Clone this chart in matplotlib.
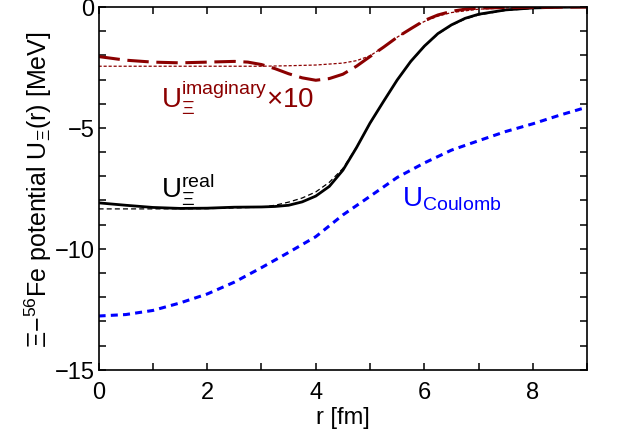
import matplotlib
matplotlib.use("Agg")
import matplotlib.pyplot as plt
from matplotlib.ticker import MultipleLocator

plt.rcParams['font.family'] = ['Liberation Sans', 'DejaVu Sans']
plt.rcParams['mathtext.fontset'] = 'custom'
plt.rcParams['mathtext.rm'] = 'Liberation Sans'
plt.rcParams['mathtext.it'] = 'Liberation Sans'
plt.rcParams['mathtext.bf'] = 'Liberation Sans'

# --- data ---
r_real = [0, 0.5, 1.0, 1.5, 2.0, 2.5, 3.0, 3.25, 3.5, 3.75, 4.0, 4.25, 4.5, 4.75, 5.0,
          5.25, 5.5, 5.75, 6.0, 6.25, 6.5, 6.75, 7.0, 7.5, 8.0, 8.5, 9.0]
u_real = [-8.1, -8.2, -8.29, -8.33, -8.32, -8.28, -8.27, -8.25, -8.2, -8.06, -7.82, -7.42,
          -6.75, -5.82, -4.8, -3.9, -3.02, -2.25, -1.62, -1.1, -0.74, -0.47, -0.3, -0.12,
          -0.04, -0.01, 0.0]

r_real_fit = [0, 1.0, 2.0, 3.0, 3.25, 3.5, 3.75, 4.0, 4.25, 4.5, 4.75, 5.0, 5.25, 5.5,
              5.75, 6.0, 6.25, 6.5, 6.75, 7.0, 7.5, 8.0, 8.5, 9.0]
u_real_fit = [-8.35, -8.35, -8.34, -8.28, -8.2, -8.07, -7.9, -7.65, -7.25, -6.68, -5.8,
              -4.82, -3.9, -3.02, -2.27, -1.64, -1.12, -0.76, -0.5, -0.33, -0.14, -0.06,
              -0.02, -0.01]

r_imag = [0, 0.5, 1.0, 1.5, 2.0, 2.5, 2.75, 3.0, 3.25, 3.5, 3.75, 4.0, 4.25, 4.5, 4.75,
          5.0, 5.25, 5.5, 5.75, 6.0, 6.25, 6.5, 6.75, 7.0, 7.5, 8.0, 9.0]
u_imag = [-2.05, -2.2, -2.28, -2.31, -2.28, -2.25, -2.28, -2.38, -2.55, -2.76, -2.93,
          -3.03, -2.96, -2.78, -2.45, -2.05, -1.66, -1.25, -0.9, -0.56, -0.33, -0.18,
          -0.09, -0.05, -0.02, -0.01, 0.0]

r_imag_fit = [0, 1.0, 2.0, 3.0, 3.5, 4.0, 4.25, 4.5, 4.75, 5.0, 5.25, 5.5, 5.75, 6.0,
              6.25, 6.5, 7.0, 7.5, 8.0, 9.0]
u_imag_fit = [-2.45, -2.45, -2.45, -2.45, -2.43, -2.4, -2.36, -2.32, -2.22, -2.02, -1.65,
              -1.25, -0.9, -0.6, -0.38, -0.23, -0.09, -0.04, -0.01, 0.0]

r_coul = [0, 0.5, 1.0, 1.5, 2.0, 2.5, 3.0, 3.5, 4.0, 4.5, 5.0, 5.5, 6.0, 6.5, 7.0,
          7.5, 8.0, 8.5, 9.0]
u_coul = [-12.78, -12.72, -12.55, -12.24, -11.87, -11.38, -10.78, -10.15, -9.5, -8.6,
          -7.83, -7.05, -6.45, -5.92, -5.53, -5.15, -4.83, -4.47, -4.14]

x_ticks = [0, 2, 4, 6, 8]
y_ticks = [0, -5, -10, -15]

red = '#8b0000'

fig = plt.figure(figsize=(6.24, 4.39), dpi=100)
ax = fig.add_axes([0.158, 0.1556, 0.783, 0.8262])

ax.plot(r_real_fit, u_real_fit, color='black', lw=0.9, dashes=(4, 2.5))
ax.plot(r_real, u_real, color='black', lw=2.0)
ax.plot(r_imag_fit, u_imag_fit, color=red, lw=0.9, dashes=(2.5, 1.5))
ax.plot(r_imag, u_imag, color=red, lw=2.2, dashes=(7, 2.5))
ax.plot(r_coul, u_coul, color='blue', lw=2.2, dashes=(2.3, 1.7))

ax.set_xlim(0, 9)
ax.set_ylim(-15, 0)
ax.set_xticks(x_ticks)
ax.set_yticks(y_ticks)
ax.set_yticklabels(['0', '\u22125', '\u221210', '\u221215'])
ax.xaxis.set_minor_locator(MultipleLocator(1))
ax.yaxis.set_minor_locator(MultipleLocator(1))
ax.tick_params(which='both', direction='in', top=True, right=True, length=5, width=1.1,
               labelsize=17)
ax.tick_params(axis='x', pad=8)
ax.tick_params(axis='y', pad=3)
for s in ax.spines.values():
    s.set_linewidth(1.2)

ax.set_xlabel('r [fm]', fontsize=17, labelpad=2)
ax.set_ylabel('$\\Xi$\u2212$^{56}$Fe potential U$_\\Xi$(r) [MeV]',
              fontsize=18, labelpad=0)

ax.text(1.15, -7.85, r'U$_\Xi^{\mathregular{real}}$', fontsize=20, color='black')
ax.text(1.15, -4.1, 'U$_\\Xi^{\\mathregular{imaginary}}$\u00d710',
        fontsize=20, color=red)
ax.text(5.58, -8.2, r'U$_{\mathregular{Coulomb}}$', fontsize=20, color='blue')

fig.savefig('out.png', dpi=100)
